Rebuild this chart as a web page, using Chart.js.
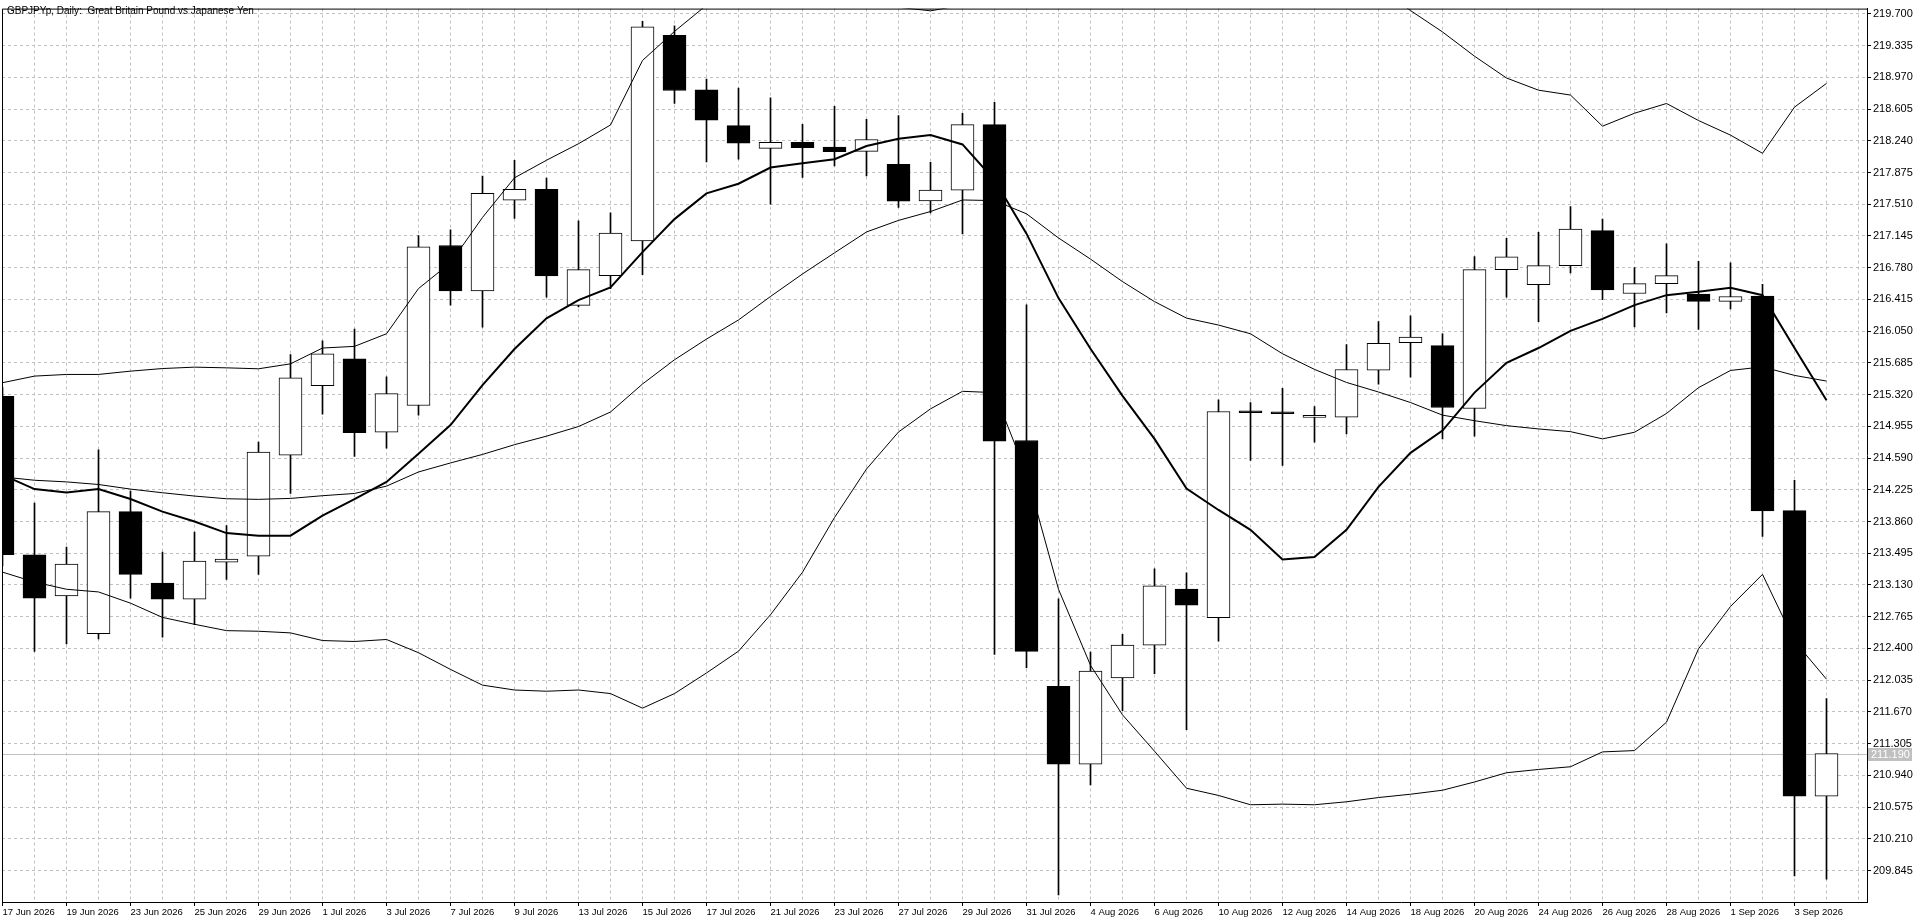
<!DOCTYPE html>
<html><head><meta charset="utf-8">
<script src="https://cdn.jsdelivr.net/npm/chart.js@4.4.1/dist/chart.umd.min.js"></script>
<style>html,body{margin:0;padding:0;background:#fff;overflow:hidden}canvas{display:block}</style>
</head><body>
<canvas id="c" width="1920" height="923"></canvas>
<script>
// ---- data ----
const chartTitle = 'GBPJPYp, Daily:  Great Britain Pound vs Japanese Yen';
const dates = ['17 Jun 2026','18 Jun 2026','19 Jun 2026','22 Jun 2026','23 Jun 2026','24 Jun 2026','25 Jun 2026','26 Jun 2026','29 Jun 2026','30 Jun 2026',
 '1 Jul 2026','2 Jul 2026','3 Jul 2026','6 Jul 2026','7 Jul 2026','8 Jul 2026','9 Jul 2026','10 Jul 2026','13 Jul 2026','14 Jul 2026',
 '15 Jul 2026','16 Jul 2026','17 Jul 2026','20 Jul 2026','21 Jul 2026','22 Jul 2026','23 Jul 2026','24 Jul 2026','27 Jul 2026','28 Jul 2026',
 '29 Jul 2026','30 Jul 2026','31 Jul 2026','3 Aug 2026','4 Aug 2026','5 Aug 2026','6 Aug 2026','7 Aug 2026','10 Aug 2026','11 Aug 2026',
 '12 Aug 2026','13 Aug 2026','14 Aug 2026','17 Aug 2026','18 Aug 2026','19 Aug 2026','20 Aug 2026','21 Aug 2026','24 Aug 2026','25 Aug 2026',
 '26 Aug 2026','27 Aug 2026','28 Aug 2026','31 Aug 2026','1 Sep 2026','2 Sep 2026','3 Sep 2026','4 Sep 2026'];
const openP  = [215.301,213.476,213.005,212.571,213.974,213.153,212.967,213.392,213.461,214.624,
 215.423,215.731,214.887,215.195,217.035,216.514,217.556,217.681,216.347,216.689,
 217.088,219.453,218.826,218.415,218.153,218.221,218.168,218.118,217.970,217.548,
 217.673,218.426,214.792,211.963,211.069,212.062,212.438,213.084,212.754,215.130,
 215.103,215.058,215.061,215.600,215.917,215.883,215.160,216.757,216.586,216.803,
 217.206,216.483,216.597,216.476,216.392,216.453,213.985,210.700];
const highP  = [215.400,214.073,213.567,214.685,214.210,213.510,213.738,213.814,214.773,215.780,
 215.940,216.073,215.525,217.149,217.217,217.833,218.016,217.810,217.320,217.411,
 219.613,219.563,218.951,218.845,218.734,218.430,218.635,218.487,218.529,217.993,
 218.556,218.681,216.354,212.970,212.358,212.563,213.316,213.271,215.259,215.229,
 215.392,215.183,215.895,216.160,216.225,216.020,216.909,217.118,217.187,217.483,
 217.339,216.780,217.054,216.852,216.837,216.590,214.335,211.822];
const lowP   = [213.350,212.366,212.453,212.510,212.978,212.529,212.674,213.195,213.252,214.183,
 215.096,214.609,214.704,215.084,216.350,216.096,217.347,216.442,216.330,216.540,
 216.700,218.670,217.997,218.027,217.510,217.818,217.951,217.837,217.472,217.411,
 217.168,212.332,212.179,209.564,210.830,211.685,212.111,211.465,212.484,214.563,
 214.506,214.773,214.868,215.440,215.522,214.811,214.841,216.442,216.160,216.719,
 216.411,216.099,216.259,216.069,216.305,213.689,209.784,209.746];
const closeP = [213.480,212.978,213.370,213.974,213.252,212.967,213.404,213.427,214.658,215.514,
 215.788,214.883,215.331,217.020,216.514,217.635,217.681,216.685,216.757,217.179,
 219.552,218.818,218.476,218.213,218.221,218.160,218.115,218.255,217.544,217.673,
 218.426,214.784,212.366,211.069,212.141,212.438,213.119,212.898,215.126,215.111,
 215.100,215.060,215.609,215.910,215.982,215.172,216.757,216.905,216.803,217.225,
 216.525,216.597,216.689,216.392,216.449,213.982,210.700,211.190];
const maLine = [214.396,214.233,214.195,214.233,214.119,213.974,213.860,213.727,213.697,213.697,
 213.928,214.119,214.316,214.640,214.970,215.430,215.845,216.198,216.407,216.552,
 216.959,217.339,217.635,217.746,217.932,217.981,218.027,218.179,218.263,218.305,
 218.198,217.788,217.172,216.430,215.848,215.305,214.811,214.240,213.993,213.765,
 213.423,213.453,213.765,214.259,214.650,214.906,215.343,215.685,215.856,216.054,
 216.191,216.350,216.464,216.502,216.548,216.464,215.856,215.255];
const bbUpper = [215.457,215.533,215.552,215.552,215.590,215.620,215.636,215.628,215.617,215.674,
 215.856,215.875,216.020,216.540,216.837,217.358,217.814,218.016,218.206,218.422,
 219.164,219.498,219.800,219.989,220.110,220.139,219.996,219.918,219.775,219.735,
 219.800,219.900,220.389,221.163,221.552,221.604,221.562,221.608,221.531,221.438,
 220.971,220.618,220.284,220.015,219.738,219.492,219.213,218.962,218.822,218.766,
 218.408,218.557,218.669,218.473,218.305,218.096,218.627,218.900];
const bbMiddle = [214.373,214.335,214.316,214.286,214.233,214.191,214.153,214.122,214.115,214.126,
 214.157,214.183,214.267,214.430,214.534,214.632,214.744,214.842,214.953,215.120,
 215.442,215.721,215.959,216.179,216.449,216.708,216.951,217.191,217.324,217.426,
 217.559,217.552,217.400,217.122,216.879,216.620,216.390,216.200,216.120,216.020,
 215.790,215.610,215.460,215.350,215.229,215.084,215.020,214.963,214.925,214.894,
 214.811,214.887,215.103,215.400,215.598,215.639,215.541,215.476];
const bbLower = [213.278,213.164,213.081,213.050,212.921,212.757,212.678,212.605,212.598,212.579,
 212.491,212.480,212.503,212.351,212.159,211.978,211.922,211.908,211.922,211.881,
 211.713,211.881,212.118,212.369,212.788,213.277,213.906,214.464,214.890,215.156,
 215.358,215.343,214.411,213.081,212.206,211.636,211.218,210.792,210.709,210.602,
 210.609,210.602,210.636,210.685,210.723,210.769,210.864,210.970,211.008,211.039,
 211.210,211.225,211.552,212.396,212.883,213.252,212.484,212.046];
const yTicks = [219.700,219.335,218.970,218.605,218.240,217.875,217.510,217.145,216.780,216.415,
 216.050,215.685,215.320,214.955,214.590,214.225,213.860,213.495,213.130,212.765,
 212.400,212.035,211.670,211.305,210.940,210.575,210.210,209.845];
const lastPrice = 211.190;

// ---- build datasets ----
const FONT = '"Liberation Sans", Arial, sans-serif';
const idx = dates.map((d, i) => i);
const xy = arr => arr.map((v, i) => ({x: i, y: v}));
const bodies = idx.map(i => ({x: i, y: [Math.min(openP[i], closeP[i]), Math.max(openP[i], closeP[i])]}));
const wicks = idx.map(i => ({x: i, y: [lowP[i], highP[i]]}));
const bodyFill = idx.map(i => closeP[i] >= openP[i] ? '#ffffff' : '#000000');
const lineDs = (data, w) => ({type: 'line', data: xy(data), borderColor: '#000', borderWidth: w,
  pointRadius: 0, tension: 0, fill: false});

const frame = {
  id: 'frame',
  beforeDatasetsDraw(chart) {
    const {ctx, chartArea: a, scales} = chart;
    const y = Math.round(scales.y.getPixelForValue(lastPrice)) + 0.5;
    ctx.save();
    ctx.strokeStyle = '#c0c0c0'; ctx.lineWidth = 1;
    ctx.beginPath(); ctx.moveTo(a.left, y); ctx.lineTo(a.right, y); ctx.stroke();
    ctx.restore();
  },
  afterDraw(chart) {
    const {ctx, chartArea: a, scales} = chart;
    ctx.save();
    ctx.strokeStyle = '#000'; ctx.lineWidth = 1;
    ctx.beginPath();
    ctx.moveTo(a.left + 0.5, a.bottom); ctx.lineTo(a.left + 0.5, a.top + 0.5); ctx.lineTo(a.right, a.top + 0.5);
    ctx.stroke();
    // title
    ctx.fillStyle = '#000'; ctx.font = '10px ' + FONT; ctx.textBaseline = 'alphabetic'; ctx.textAlign = 'left';
    ctx.fillText(chartTitle, 7, 14);
    // last price label
    const y = Math.round(scales.y.getPixelForValue(lastPrice));
    ctx.fillStyle = '#c0c0c0';
    ctx.fillRect(a.right + 1, y - 6, 44, 13);
    ctx.fillStyle = '#ffffff'; ctx.textBaseline = 'middle'; ctx.font = '11px ' + FONT;
    ctx.fillText(lastPrice.toFixed(3), a.right + 4, y + 0.5);
    ctx.restore();
  }
};

new Chart(document.getElementById('c'), {
  type: 'line',
  data: {
    datasets: [
      lineDs(maLine, 2),
      lineDs(bbUpper, 1),
      lineDs(bbMiddle, 1),
      lineDs(bbLower, 1),
      {type: 'bar', data: bodies, backgroundColor: bodyFill, borderColor: '#000', borderWidth: 1,
       borderSkipped: false, barThickness: 23, grouped: false, minBarLength: 2},
      {type: 'bar', data: wicks, backgroundColor: '#000', borderWidth: 0,
       barThickness: 1, grouped: false}
    ]
  },
  options: {
    responsive: false, animation: false, devicePixelRatio: 1,
    layout: {padding: {left: 2, top: 1, right: 0, bottom: 0}},
    plugins: {legend: {display: false}, tooltip: {enabled: false}},
    scales: {
      x: {
        type: 'linear', offset: false, bounds: 'data',
        min: -0.015625, max: 58.265625,
        afterBuildTicks: s => { s.ticks = Array.from({length: 59}, (_, i) => ({value: i})); },
        afterFit: s => { s.height = 21; },
        grid: {color: '#c0c0c0', lineWidth: 1, offset: false, tickLength: 4,
          tickColor: c => (c.index % 2 === 0 && c.index < dates.length) ? '#000' : 'rgba(0,0,0,0)',
          tickBorderDash: []},
        border: {display: true, color: '#000', width: 1, dash: [3, 3]},
        ticks: {autoSkip: false, maxRotation: 0, minRotation: 0, align: 'start', padding: 1,
          color: '#000', font: {family: FONT, size: 9.5},
          callback: (v, i) => (i % 2 === 0 && i < dates.length) ? dates[i] : ''}
      },
      y: {
        type: 'linear', position: 'right', bounds: 'data', beginAtZero: false,
        min: 209.4833, max: 219.7605,
        afterBuildTicks: s => { s.ticks = yTicks.map(v => ({value: v})); },
        afterFit: s => { s.width = 53; },
        grid: {color: '#c0c0c0', lineWidth: 1, tickLength: 4, tickColor: '#000', tickBorderDash: []},
        border: {display: true, color: '#000', width: 1, dash: [3, 3]},
        ticks: {padding: 2, color: '#000', font: {family: FONT, size: 11},
          callback: v => Number(v).toFixed(3)}
      }
    }
  },
  plugins: [frame]
});
</script>
</body></html>
